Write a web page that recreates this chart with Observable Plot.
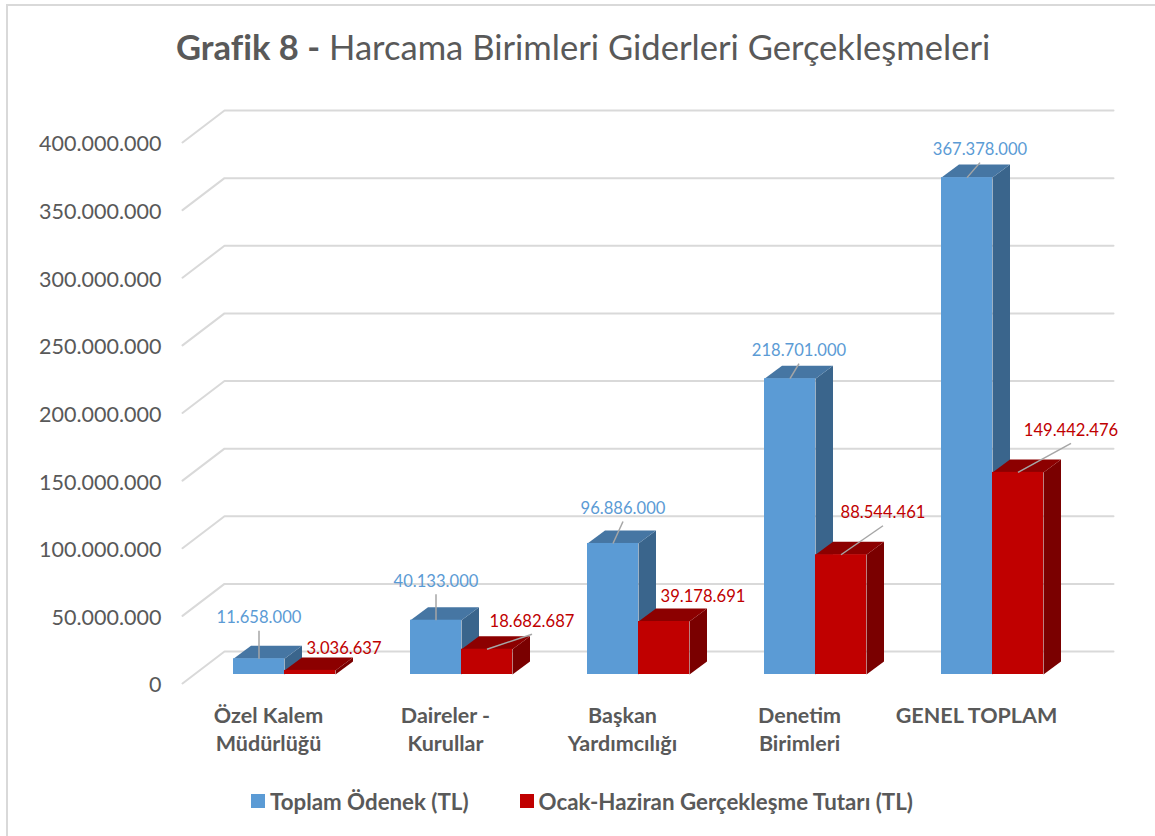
<!DOCTYPE html>
<html lang="tr">
<head>
<meta charset="utf-8">
<script src="https://cdn.jsdelivr.net/npm/d3@7"></script>
<script src="https://cdn.jsdelivr.net/npm/@observablehq/plot@0.6"></script>
<style>
html,body{margin:0;padding:0;background:#fff;}
#page{position:relative;width:1155px;height:836px;overflow:hidden;font-family:Lato,sans-serif;color:#595959;box-sizing:border-box;border-left:2px solid #D9D9D9;border-top:2px solid #D9D9D9;margin:4px 0 0 6px;}
#title{height:82px;line-height:82px;font-size:34.6px;white-space:nowrap;padding-left:168px;}
#title b{font-weight:700;}
#legend{display:flex;align-items:center;font-size:22.3px;font-weight:700;padding-left:243px;height:30px;margin-top:10px;}
#legend i{display:inline-block;width:14px;height:14px;margin-right:5px;}
#legend span{margin-right:51px;}
svg{display:block;}
</style>
</head>
<body>
<div id="page">
  <div id="title"><b>Grafik 8 -</b> Harcama Birimleri Giderleri Gerçekleşmeleri</div>
  <div id="chart"></div>
  <div id="legend"></div>
</div>
<script>
// ---- data ----
const categories = ["Özel Kalem\nMüdürlüğü", "Daireler -\nKurullar", "Başkan\nYardımcılığı", "Denetim\nBirimleri", "GENEL TOPLAM"];
const toplamOdenek = [11658000, 40133000, 96886000, 218701000, 367378000];
const gerceklesme = [3036637, 18682687, 39178691, 88544461, 149442476];
const seriesNames = ["Toplam Ödenek (TL)", "Ocak-Haziran Gerçekleşme Tutarı (TL)"];
const yTicks = [0, 50e6, 100e6, 150e6, 200e6, 250e6, 300e6, 350e6, 400e6];

// ---- look ----
const BLUE = {front: "#5B9BD5", top: "#4676A3", side: "#3A658C", text: "#5B9BD5"};
const RED = {front: "#C00000", top: "#8C0000", side: "#7A0000", text: "#C00000"};
const GRID = "#D9D9D9", INK = "#595959", FONT = "Lato, sans-serif";

// ---- scales: one x unit is one category, y is in TL ----
const unitX = 177, unitY = 1.3525e-6;          // px per unit
const xpx = p => p / unitX, ypx = p => p / unitY;
const barW = xpx(51), depthX = xpx(17.5), depthY = ypx(13), base = ypx(9), split = xpx(16);
const wallL = xpx(-86), wallDX = xpx(42), wallDY = ypx(32), wallR = xpx(845);

const fmt = d3.formatLocale({decimal: ",", thousands: ".", grouping: [3], currency: ["", ""]}).format(",d");

function faces(values, offset) {
  const front = [], top = [], side = [];
  values.forEach((v, i) => {
    const x0 = i + offset, x1 = x0 + barW, y0 = base, y1 = base + v;
    front.push({x1: x0, x2: x1, y1: y0, y2: y1});
    [[x0, y1], [x1, y1], [x1 + depthX, y1 + depthY], [x0 + depthX, y1 + depthY]].forEach(([x, y]) => top.push({id: i, x, y}));
    [[x1, y0], [x1 + depthX, y0 + depthY], [x1 + depthX, y1 + depthY], [x1, y1]].forEach(([x, y]) => side.push({id: i, x, y}));
  });
  return {front, top, side};
}
const barMarks = (values, offset, c) => {
  const f = faces(values, offset);
  return [
    Plot.line(f.side, {x: "x", y: "y", z: "id", fill: c.side, stroke: "none"}),
    Plot.line(f.top, {x: "x", y: "y", z: "id", fill: c.top, stroke: "none"}),
    Plot.rect(f.front, {x1: "x1", x2: "x2", y1: "y1", y2: "y2", fill: c.front})
  ];
};

// label placement, in px from the middle of the bar's top front edge
const blueLabelAt = [[0, 42], [0, 40], [10, 36], [9, 29], [13, 29]];
const redLabelAt = [[34, 23], [45, 29], [39, 26], [42, 43], [53, 43]];
const redLeaders = [false, true, false, true, true];
const blueLeaders = [true, true, true, true, true];

const labels = (values, offset, at, color) => values.map((v, i) => ({
  i, v, text: fmt(v),
  ax: i + offset + barW / 2, ay: base + v,
  lx: i + offset + barW / 2 + xpx(at[i][0]), ly: base + v + ypx(at[i][1]),
  ex: i + offset + barW / 2 + xpx(at[i][0]), ey: base + v + ypx(at[i][1] - 14),
  color
}));
const blueLabels = labels(toplamOdenek, split - barW, blueLabelAt, BLUE.text);
const redLabels = labels(gerceklesme, split, redLabelAt, RED.text);
const leaders = [...blueLabels.filter((d, i) => blueLeaders[i]), ...redLabels.filter((d, i) => redLeaders[i])];
const allLabels = [...blueLabels, ...redLabels];

const plot = Plot.plot({
  width: 1149, height: 688,
  marginLeft: 153, marginRight: 0, marginTop: 0, marginBottom: 95,
  style: {background: "transparent", fontFamily: FONT},
  x: {type: "linear", domain: [0, 4], range: [260, 968], axis: null},
  y: {type: "linear", domain: [0, 400e6], range: [595, 54], axis: null},
  marks: [
    // back wall gridlines with their diagonal returns
    Plot.line(yTicks.flatMap(t => [
      {t, x: wallL, y: t},
      {t, x: wallL + wallDX, y: t + wallDY},
      {t, x: wallR, y: t + wallDY}
    ]), {x: "x", y: "y", z: "t", stroke: GRID, strokeWidth: 2}),
    ...barMarks(toplamOdenek, split - barW, BLUE),
    ...barMarks(gerceklesme, split, RED),
    Plot.link(leaders, {x1: "ax", y1: "ay", x2: "ex", y2: "ey", stroke: "#A6A6A6", strokeWidth: 1.5}),
    Plot.text(allLabels, {x: "lx", y: "ly", text: "text", fill: "color", fontSize: 16.6, fontFamily: FONT, dy: 1}),
    Plot.axisY(yTicks, {anchor: "left", tickSize: 0, tickPadding: 0, label: null, tickFormat: fmt, dy: 2,
      fontSize: 21.5, fontFamily: FONT, color: INK}),
    Plot.axisX([0, 1, 2, 3, 4], {anchor: "bottom", tickSize: 0, tickPadding: 22, label: null,
      tickFormat: i => categories[i], fontSize: 21.5, fontWeight: 700, fontFamily: FONT, color: INK,
      lineHeight: 1.3, lineAnchor: "top"})
  ]
});
document.getElementById("chart").appendChild(plot);

const legend = document.getElementById("legend");
[BLUE, RED].forEach((c, k) => {
  const sw = document.createElement("i"); sw.style.background = c.front;
  const t = document.createElement("span"); t.textContent = seriesNames[k];
  legend.append(sw, t);
});
</script>
</body>
</html>
